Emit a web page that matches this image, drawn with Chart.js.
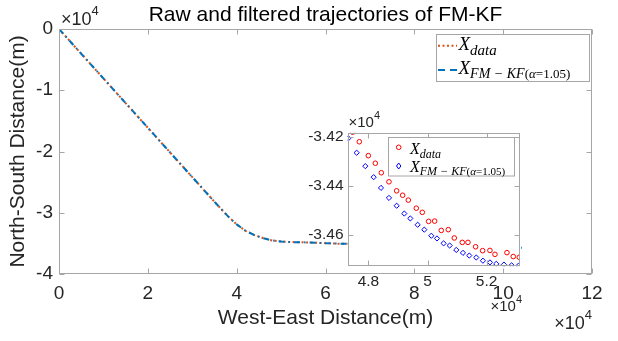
<!DOCTYPE html>
<html>
<head>
<meta charset="utf-8">
<script src="https://cdn.jsdelivr.net/npm/chart.js@4.4.1/dist/chart.umd.min.js"></script>
<style>
  body { margin: 0; background: #fff; }
  #wrap { position: relative; width: 618px; height: 341px; }
  #main { position: absolute; left: 0; top: 0; }
  #inset { position: absolute; left: 290px; top: 105px; }
</style>
</head>
<body>
<div id="wrap">
  <canvas id="main" width="618" height="341"></canvas>
  <canvas id="inset" width="240" height="215"></canvas>
</div>
<script>
// whole trajectory, metres
const trackX = [0, 10000, 20000, 30000, 35000, 38000, 40000, 42000, 44000, 46000, 48000, 50000, 52000, 56000, 63000, 70000, 80000, 90000, 100000, 104200];
const trackY = [0, -8060, -16120, -24180, -28200, -30550, -31900, -32950, -33650, -34150, -34520, -34700, -34780, -34850, -35050, -35150, -35300, -35450, -35600, -35700];

// zoomed part, metres
const zoomRawX = [47465, 47690, 47995, 48232, 48435, 48694, 48954, 49157, 49349, 49619, 49822, 50037, 50240, 50465, 50702, 50905, 51176, 51368, 51627, 51864, 52112, 52282, 52688, 52902, 53105];
const zoomRawY = [-34180, -34219, -34276, -34307, -34346, -34383, -34420, -34438, -34458, -34491, -34508, -34545, -34544, -34582, -34579, -34613, -34631, -34631, -34649, -34665, -34664, -34680, -34673, -34689, -34692];
const zoomFiltX = [47318, 47600, 47893, 48176, 48424, 48694, 48954, 49213, 49416, 49665, 49890, 50127, 50319, 50544, 50748, 50973, 51199, 51413, 51650, 51875, 52112, 52327, 52586, 52846, 53083];
const zoomFiltY = [-34205, -34264, -34319, -34364, -34408, -34449, -34481, -34513, -34533, -34559, -34579, -34604, -34615, -34635, -34644, -34662, -34674, -34685, -34693, -34706, -34713, -34719, -34722, -34725, -34726];

const mainXTicks = [0, 20000, 40000, 60000, 80000, 100000, 120000];
const mainYTicks = [-40000, -30000, -20000, -10000, 0];
const zoomXTicks = [48000, 50000, 52000];
const zoomYTicks = [-34600, -34400, -34200];

const AXIS = '#a6a6a6';
const INK = '#262626';
const SANS = '"Liberation Sans", Arial, sans-serif';
const SERIF = '"Liberation Serif", "Times New Roman", serif';

function pts(xs, ys) {
  return xs.map((x, i) => ({ x: x, y: ys[i] }));
}
function fmt(v) {
  return String(+(v / 1e4).toFixed(2));
}
function setTicks(list) {
  return function(scale) { scale.ticks = list.map(v => ({ value: v })); };
}

// box + inward ticks on all four sides, like matlab "box on"
function drawBox(chart) {
  const ctx = chart.ctx, a = chart.chartArea;
  const l = Math.round(a.left) + 0.5, r = Math.round(a.right) - 0.5;
  const t = Math.round(a.top) + 0.5, b = Math.round(a.bottom) - 0.5;
  ctx.save();
  ctx.strokeStyle = AXIS;
  ctx.lineWidth = 1;
  ctx.strokeRect(l, t, r - l, b - t);
  ctx.beginPath();
  chart.scales.x.ticks.forEach(tk => {
    const px = Math.round(chart.scales.x.getPixelForValue(tk.value)) + 0.5;
    ctx.moveTo(px, b); ctx.lineTo(px, b - 5);
    ctx.moveTo(px, t); ctx.lineTo(px, t + 5);
  });
  chart.scales.y.ticks.forEach(tk => {
    const py = Math.round(chart.scales.y.getPixelForValue(tk.value)) + 0.5;
    ctx.moveTo(l, py); ctx.lineTo(l + 5, py);
    ctx.moveTo(r, py); ctx.lineTo(r - 5, py);
  });
  ctx.stroke();
  ctx.restore();
}

// "×10^4" exponent label
function drawExp(ctx, x, base, size, alignRight) {
  ctx.save();
  ctx.fillStyle = INK;
  ctx.textBaseline = 'alphabetic';
  ctx.font = size + 'px ' + SANS;
  const w1 = ctx.measureText('\u00d710').width;
  ctx.font = Math.round(size * 0.72) + 'px ' + SANS;
  const w2 = ctx.measureText('4').width;
  const x0 = alignRight ? x - w1 - w2 : x;
  ctx.font = size + 'px ' + SANS;
  ctx.fillText('\u00d710', x0, base);
  ctx.font = Math.round(size * 0.72) + 'px ' + SANS;
  ctx.fillText('4', x0 + w1, base - size * 0.55);
  ctx.restore();
}

// latex-like label: list of [text, font, dy]
function drawMath(ctx, x, base, pieces) {
  ctx.save();
  ctx.fillStyle = '#000';
  ctx.textBaseline = 'alphabetic';
  pieces.forEach(p => {
    ctx.font = p[1];
    ctx.fillText(p[0], x, base + p[2]);
    x += ctx.measureText(p[0]).width;
  });
  ctx.restore();
}

function rawLabel(s) {
  return [['X', 'italic ' + s + 'px ' + SERIF, 0],
          ['data', 'italic ' + Math.round(s * 0.78) + 'px ' + SERIF, s * 0.28]];
}
function filtLabel(s) {
  const sub = Math.round(s * 0.76), sm = Math.round(s * 0.66), dy = s * 0.2;
  return [['X', 'italic ' + s + 'px ' + SERIF, 0],
          ['FM \u2212 KF', 'italic ' + sub + 'px ' + SERIF, dy],
          ['(', sm + 'px ' + SERIF, dy],
          ['\u03b1', 'italic ' + sm + 'px ' + SERIF, dy],
          ['=1.05)', sm + 'px ' + SERIF, dy]];
}

const mainDecor = {
  id: 'mainDecor',
  afterDraw(chart) {
    const ctx = chart.ctx, a = chart.chartArea;
    drawBox(chart);

    ctx.save();
    ctx.fillStyle = '#000';
    ctx.font = '21px ' + SANS;
    ctx.textAlign = 'center';
    ctx.textBaseline = 'alphabetic';
    ctx.fillText('Raw and filtered trajectories of FM-KF', (a.left + a.right) / 2, 21);
    ctx.restore();

    drawExp(ctx, a.left + 2, 25, 18, false);
    drawExp(ctx, a.right, 329, 18, true);

    // legend
    ctx.save();
    ctx.fillStyle = '#fff';
    ctx.fillRect(436.5, 34.5, 153, 47);
    ctx.strokeStyle = AXIS;
    ctx.lineWidth = 1;
    ctx.strokeRect(436.5, 34.5, 153, 47);
    ctx.lineWidth = 2;
    ctx.strokeStyle = '#D95319';
    ctx.setLineDash([2, 2.5]);
    ctx.beginPath(); ctx.moveTo(438, 45.7); ctx.lineTo(457, 45.7); ctx.stroke();
    ctx.strokeStyle = '#0072BD';
    ctx.setLineDash([7, 5]);
    ctx.beginPath(); ctx.moveTo(438, 70); ctx.lineTo(457, 70); ctx.stroke();
    ctx.restore();
    drawMath(ctx, 458.5, 50, rawLabel(19));
    drawMath(ctx, 458.5, 74, filtLabel(19));
  }
};

const insetDecor = {
  id: 'insetDecor',
  beforeDraw(chart) {
    const a = chart.chartArea;
    chart.ctx.save();
    chart.ctx.fillStyle = '#fff';
    chart.ctx.fillRect(a.left, a.top, a.right - a.left, a.bottom - a.top);
    chart.ctx.restore();
  },
  afterDraw(chart) {
    const ctx = chart.ctx, a = chart.chartArea;
    drawBox(chart);
    drawExp(ctx, a.left + 1, 22.3, 15, false);
    drawExp(ctx, 232, 206, 15, true);

    // legend
    ctx.save();
    ctx.fillStyle = '#fff';
    ctx.fillRect(98.5, 32.5, 126, 38.5);
    ctx.strokeStyle = AXIS;
    ctx.lineWidth = 1;
    ctx.strokeRect(98.5, 32.5, 126, 38.5);
    ctx.strokeStyle = '#FF0000';
    ctx.beginPath(); ctx.arc(108.7, 42.3, 2.3, 0, Math.PI * 2); ctx.stroke();
    ctx.strokeStyle = '#0000FF';
    ctx.beginPath();
    ctx.moveTo(108.7, 58); ctx.lineTo(110.9, 61); ctx.lineTo(108.7, 64); ctx.lineTo(106.5, 61); ctx.closePath();
    ctx.stroke();
    ctx.restore();
    drawMath(ctx, 120, 48.5, rawLabel(16));
    drawMath(ctx, 120, 67, filtLabel(16));
  }
};

function scaleOpts(min, max, list, fontSize, pad) {
  return {
    type: 'linear', min: min, max: max,
    afterBuildTicks: setTicks(list),
    grid: { display: false, drawTicks: false },
    border: { display: false },
    ticks: { padding: pad, color: INK, font: { family: SANS, size: fontSize }, callback: fmt }
  };
}

const mx = scaleOpts(0, 120000, mainXTicks, 19, 8);
mx.afterFit = s => { s.height = 67; };
mx.title = { display: true, text: 'West-East Distance(m)', color: INK, font: { family: SANS, size: 21 }, padding: { top: 10, bottom: 10 } };
const my = scaleOpts(-40000, 0, mainYTicks, 19, 6);
my.afterFit = s => { s.width = 59; };
my.title = { display: true, text: 'North-South Distance(m)', color: INK, font: { family: SANS, size: 21 }, padding: { top: 6, bottom: 6 } };

new Chart(document.getElementById('main'), {
  type: 'scatter',
  data: {
    datasets: [
      { label: 'FM-KF', data: pts(trackX, trackY), showLine: true, borderColor: '#0072BD', borderWidth: 2,
        borderDash: [6, 4, 1.5, 4], pointRadius: 0, order: 0 },
      { label: 'data', data: pts(trackX, trackY), showLine: true, borderColor: '#D95319', borderWidth: 2,
        borderDash: [2, 2.5], pointRadius: 0, order: 1 }
    ]
  },
  options: {
    responsive: false,
    animation: false,
    layout: { padding: { top: 29, right: 26, left: 0, bottom: 0 } },
    plugins: { legend: { display: false }, tooltip: { enabled: false } },
    scales: { x: mx, y: my }
  },
  plugins: [mainDecor]
});

const ix = scaleOpts(47290, 53130, zoomXTicks, 15.5, 6);
ix.afterFit = s => { s.height = 53.7; };
const iy = scaleOpts(-34729, -34182, zoomYTicks, 15.5, 4);
iy.afterFit = s => { s.width = 57.5; };

new Chart(document.getElementById('inset'), {
  type: 'scatter',
  data: {
    datasets: [
      { label: 'data', data: pts(zoomRawX, zoomRawY), pointStyle: 'circle', pointRadius: 2.3,
        borderColor: '#FF0000', backgroundColor: 'rgba(0,0,0,0)', borderWidth: 1 },
      { label: 'FM-KF', data: pts(zoomFiltX, zoomFiltY), pointStyle: 'rectRot', pointRadius: 2.6,
        borderColor: '#0000FF', backgroundColor: 'rgba(0,0,0,0)', borderWidth: 1 }
    ]
  },
  options: {
    responsive: false,
    animation: false,
    layout: { padding: { top: 27.7, right: 10, left: 0, bottom: 0 } },
    plugins: { legend: { display: false }, tooltip: { enabled: false } },
    scales: { x: ix, y: iy }
  },
  plugins: [insetDecor]
});
</script>
</body>
</html>
